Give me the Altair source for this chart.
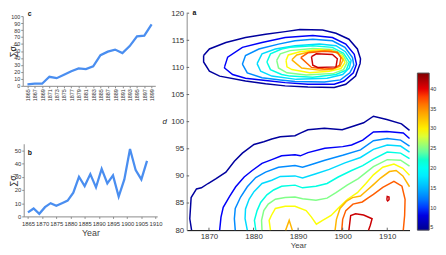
import altair as alt
import pandas as pd

# ---------------- panel c : cumulative series ----------------
years_c = list(range(1865, 1900, 2))
sum_c = [2, 3, 3, 13, 11, 16, 21, 25, 24, 28, 44, 49, 52, 47, 57, 71, 72, 88]

# ---------------- panel b : yearly series ----------------
years_b = list(range(1865, 1908, 2))
sum_b = [3, 6, 2, 7, 10, 8, 10, 12, 18, 30, 23, 32, 22, 36, 25, 31, 15, 28, 51, 35, 28, 42]

# ---------------- panel a : contour lines (year, d) ----------------
levels = [5, 9, 13, 17, 21, 25, 29, 33, 37, 41]
ticks_year_a = [1870, 1880, 1890, 1900, 1910]
ticks_d_a = [80, 85, 90, 95, 100, 105, 110, 115, 120]

top_5 = [(1868.8,112.2),(1870.1,113.4),(1873.8,114.6),(1878.2,115.5),(1882.7,116.1),(1887.1,116.6),
         (1890.4,117.0),(1895.5,116.9),(1898.5,116.3),(1901.4,115.2),(1903.3,113.4),(1904.0,111.6),
         (1903.9,110.7),(1902.9,108.4),(1900.7,106.9),(1898.1,106.3),(1892.2,106.4),(1887.1,106.6),
         (1882.7,107.0),(1878.2,107.5),(1872.4,108.4),(1870.1,109.3),(1868.8,111.0),(1868.8,112.2)]
top_9 = [(1873.5,110.1),(1874.2,111.9),(1877.5,113.7),(1881.9,114.6),(1887.1,115.5),(1893.3,115.9),
         (1897.7,115.5),(1900.7,114.3),(1902.6,112.4),(1903.1,110.6),(1902.4,109.0),(1900.3,107.5),
         (1898.1,106.9),(1892.2,106.9),(1887.1,107.2),(1882.7,107.6),(1878.2,108.0),(1875.3,108.7),
         (1873.5,109.9),(1873.5,110.1)]
top_13 = [(1877.5,110.6),(1878.2,112.2),(1881.2,113.4),(1885.6,114.3),(1889.3,114.9),(1893.3,115.2),
          (1897.7,114.9),(1900.5,113.7),(1902.2,111.8),(1902.5,110.4),(1901.6,109.0),(1899.5,107.7),
          (1895.9,107.3),(1889.3,107.4),(1886.0,107.7),(1881.9,108.1),(1878.6,109.0),(1877.5,110.6)]
top_17 = [(1880.8,110.7),(1881.9,112.5),(1884.9,113.4),(1889.3,114.0),(1894.8,114.3),(1898.5,114.0),
          (1900.6,112.9),(1901.9,111.3),(1901.5,109.9),(1900.0,108.7),(1896.5,108.0),(1889.6,107.8),
          (1884.1,108.4),(1881.6,109.3),(1880.8,110.7)]
top_21 = [(1883.0,111.0),(1883.8,112.5),(1886.3,113.4),(1888.2,113.7),(1893.3,114.0),(1897.7,113.7),
          (1900.2,112.6),(1901.5,111.0),(1900.8,109.5),(1898.5,108.7),(1893.3,108.2),(1888.2,108.4),
          (1886.3,108.7),(1883.8,109.6),(1883.0,111.0)]
top_25 = [(1885.2,111.3),(1886.0,112.5),(1888.2,113.1),(1893.3,113.5),(1897.7,113.3),(1900.0,112.4),
          (1901.0,110.9),(1900.2,109.6),(1898.0,108.9),(1891.8,108.6),(1887.5,109.0),(1885.6,109.9),
          (1885.2,111.3)]
top_29 = [(1887.3,111.3),(1887.8,112.3),(1890.4,112.9),(1894.8,113.3),(1898.1,112.9),(1899.9,112.1),
          (1900.5,110.9),(1899.6,109.8),(1897.0,109.3),(1892.6,109.0),(1888.6,109.6),(1887.5,110.1),
          (1887.3,111.3)]
top_33 = [(1888.6,111.4),(1889.7,112.3),(1892.6,112.9),(1897.0,113.2),(1899.0,112.6),(1900.1,111.4),
          (1899.4,110.2),(1897.5,109.6),(1894.8,109.5),(1890.8,109.9),(1888.6,111.4)]
top_37 = [(1890.6,111.8),(1892.2,112.7),(1895.9,113.0),(1898.8,112.8),(1899.6,111.8),(1899.3,110.4),
          (1898.0,109.8),(1895.9,109.7),(1893.0,110.0),(1890.6,111.8)]
top_41 = [(1893.0,112.0),(1894.1,112.5),(1897.7,112.4),(1898.8,111.6),(1898.5,110.1),(1894.4,110.0),
          (1893.3,110.4),(1893.0,112.0)]

low_5 = [(1866.1,80.0),(1865.7,82.1),(1866.0,86.0),(1867.2,87.6),(1868.3,87.8),(1869.8,88.6),(1871.6,89.5),
         (1873.8,90.7),(1875.7,92.7),(1877.5,94.2),(1880.1,95.8),(1882.3,96.3),(1884.1,96.8),(1886.0,97.2),
         (1889.3,97.4),(1890.5,97.9),(1892.2,98.5),(1895.9,98.8),(1899.9,98.5),(1902.5,99.2),(1904.7,99.8),
         (1906.9,101.0),(1909.9,100.4),(1913.2,99.6),(1915.0,98.4)]
low_9 = [(1872.4,80.0),(1872.7,82.4),(1873.2,84.2),(1874.6,86.2),(1876.0,88.0),(1877.9,89.8),(1879.7,91.0),
         (1881.9,92.3),(1884.1,93.0),(1886.3,93.7),(1889.3,93.9),(1890.5,93.7),(1892.2,94.3),(1896.0,95.1),
         (1900.0,95.4),(1902.0,95.7),(1904.5,96.6),(1906.9,98.1),(1909.9,98.2),(1913.6,97.9),(1915.0,96.9)]
low_13 = [(1875.9,80.0),(1875.7,82.1),(1875.9,84.0),(1877.1,86.1),(1878.6,88.0),(1880.5,89.7),(1882.7,90.7),
          (1885.6,91.6),(1889.3,91.9),(1891.0,91.6),(1893.0,92.1),(1896.0,92.9),(1900.0,93.8),(1904.0,94.8),
          (1906.9,96.5),(1910.0,96.9),(1913.0,96.6),(1915.0,95.5)]
low_17 = [(1878.6,80.0),(1878.1,82.1),(1878.2,83.9),(1879.0,85.7),(1880.1,87.1),(1881.9,88.6),(1884.1,89.2),
          (1886.0,89.9),(1889.3,90.0),(1891.0,89.6),(1894.0,90.4),(1897.0,91.2),(1900.5,92.4),(1904.0,93.4),
          (1906.9,94.9),(1910.0,95.7),(1913.0,95.5),(1915.0,94.4)]
low_21 = [(1880.5,80.0),(1880.2,81.8),(1880.8,83.6),(1881.6,85.1),(1883.0,86.5),(1884.5,87.4),(1886.3,88.1),
          (1889.3,88.3),(1891.0,87.8),(1894.0,88.1),(1896.5,88.6),(1899.0,89.8),(1902.0,91.0),(1904.5,91.9),
          (1906.9,93.1),(1910.0,94.4),(1913.0,94.2),(1915.0,93.2)]
low_25 = [(1881.9,80.0),(1881.8,81.8),(1882.3,83.6),(1883.3,84.8),(1884.9,85.7),(1887.1,86.0),(1889.3,86.1),
          (1891.0,85.8),(1894.0,85.5),(1896.5,85.9),(1898.5,86.9),(1901.0,88.3),(1903.5,89.5),(1906.9,91.7),
          (1910.0,93.0),(1913.0,92.9),(1915.0,91.8)]
low_29 = [(1883.8,80.0),(1883.5,81.8),(1884.0,82.7),(1884.9,84.0),(1887.1,84.4),(1889.3,84.4),(1891.8,83.6),
          (1893.0,82.4),(1894.1,81.1),(1895.5,81.8),(1897.4,82.7),(1899.2,84.2),(1901.1,85.7),(1903.3,86.9),
          (1905.2,88.6),(1906.9,90.2),(1909.0,91.6),(1911.5,92.2),(1913.5,91.4),(1915.0,90.1)]
low_33 = [(1898.3,80.0),(1898.6,82.0),(1899.4,84.0),(1900.8,85.3),(1902.2,86.0),(1904.0,86.3),(1905.4,87.3),
          (1906.9,88.4),(1908.5,89.6),(1910.5,90.8),(1912.0,91.0),(1913.5,90.0),(1915.0,88.0)]
low_33b = [(1887.2,80.0),(1888.0,81.8),(1888.7,80.0)]
low_37 = [(1899.8,80.0),(1900.0,82.0),(1900.7,83.6),(1902.3,84.8),(1904.4,85.2),(1905.8,86.0),(1906.9,86.6),
          (1909.0,87.9),(1911.5,89.0),(1913.3,88.1),(1914.0,85.7),(1913.9,82.7),(1913.6,80.0)]
low_41 = [(1901.4,80.0),(1901.8,82.7),(1902.9,83.0),(1904.7,82.8),(1906.6,82.1),(1906.2,80.9),(1905.8,80.0)]
low_41b = [(1909.9,85.6),(1910.0,86.2),(1910.4,86.1),(1910.4,85.6),(1910.1,85.4),(1909.9,85.6)]

contours = [
    (5, top_5), (9, top_9), (13, top_13), (17, top_17), (21, top_21), (25, top_25),
    (29, top_29), (33, top_33), (37, top_37), (41, top_41),
    (5, low_5), (9, low_9), (13, low_13), (17, low_17), (21, low_21), (25, low_25),
    (29, low_29), (33, low_33), (33, low_33b), (37, low_37), (41, low_41), (41, low_41b),
]

colorbar_ticks = [5, 10, 15, 20, 25, 30, 35, 40]
jet_domain = [4.3, 9.26, 19.19, 29.11, 39.04, 44.0]
jet_colors = ["#00008f", "#0000ff", "#00ffff", "#ffff00", "#ff0000", "#800000"]

# ---------------- tables ----------------
df_c = pd.DataFrame({"year": years_c, "v": sum_c})
df_b = pd.DataFrame({"year": years_b, "v": sum_b})
rows = []
for cid, (lvl, pts) in enumerate(contours):
    for i, (yr, d) in enumerate(pts):
        rows.append({"id": cid, "level": lvl, "i": i, "year": yr, "d": d})
df_a = pd.DataFrame(rows)

FONT = "Liberation Sans"
BLUE = "#4a8ef0"
GREY = "#8a8a8a"
TXT = "#333333"

scale_ax = alt.Scale(domain=[1865, 1915], range=[167, 394], nice=False, zero=False)
scale_ay = alt.Scale(domain=[80, 120], range=[221, 0], nice=False, zero=False)

# panel c
c_line = alt.Chart(df_c).mark_line(color=BLUE, strokeWidth=2.3).encode(
    x=alt.X("year:Q",
            scale=alt.Scale(domain=[1863.7, 1900.0], range=[0, 135], nice=False, zero=False),
            axis=alt.Axis(orient="bottom", offset=-147, values=years_c, format="d", labelAngle=270,
                          labelFontSize=5.5, labelColor=TXT, labelOverlap=False, labelFlush=False,
                          domainColor=GREY, tickColor=GREY, tickSize=2, labelPadding=1, title=None)),
    y=alt.Y("v:Q",
            scale=alt.Scale(domain=[0, 100], range=[74, 3], nice=False),
            axis=alt.Axis(orient="left", values=list(range(0, 101, 10)), labelFontSize=5.5,
                          labelColor=TXT, domainColor=GREY, tickColor=GREY, tickSize=2,
                          labelPadding=1, labelFlush=False, labelOverlap=False,
                          title="∑σⱼ", titleFontSize=9, titleFontWeight="normal", titleColor="#222",
                          titleAngle=270, titleX=-10, titleY=38.5, titleAlign="center",
                          titleBaseline="middle")),
)

# panel b
b_line = alt.Chart(df_b).mark_line(color=BLUE, strokeWidth=2.3).encode(
    x=alt.X("year:Q",
            scale=alt.Scale(domain=[1863.5, 1910.6], range=[1, 137], nice=False, zero=False),
            axis=alt.Axis(orient="bottom", offset=-14, values=list(range(1865, 1911, 5)), format="d",
                          labelFontSize=6, labelColor=TXT, labelOverlap=False, labelFlush=False,
                          domainColor=GREY, tickColor=GREY, tickSize=2, labelPadding=2,
                          title="Year", titleFontSize=9, titleFontWeight="normal", titleColor="#444",
                          titlePadding=2)),
    y=alt.Y("v:Q",
            scale=alt.Scale(domain=[0, 55], range=[207, 133], nice=False),
            axis=alt.Axis(orient="left", offset=-1, values=list(range(0, 51, 10)), labelFontSize=6,
                          labelColor=TXT, domainColor=GREY, tickColor=GREY, tickSize=2,
                          labelPadding=1, labelFlush=False, labelOverlap=False,
                          title="∑σⱼ", titleFontSize=9, titleFontWeight="normal", titleColor="#222",
                          titleAngle=270, titleX=-11, titleY=170, titleAlign="center",
                          titleBaseline="middle")),
)

# panel a
a_lines = alt.Chart(df_a).mark_line(strokeWidth=1.5).encode(
    x=alt.X("year:Q", scale=scale_ax,
            axis=alt.Axis(orient="bottom", values=ticks_year_a, format="d",
                          labelFontSize=8, labelColor=TXT, labelOverlap=False, labelFlush=False,
                          domainColor="#000", ticks=False, labelPadding=3,
                          title="Year", titleFontSize=8, titleFontWeight="normal", titleColor="#444",
                          titlePadding=1)),
    y=alt.Y("d:Q", scale=scale_ay,
            axis=alt.Axis(orient="left", offset=-167, values=ticks_d_a,
                          labelFontSize=8, labelColor=TXT, domainColor=GREY, ticks=False,
                          labelPadding=3, labelFlush=False, labelOverlap=False,
                          title="d", titleFontSize=8, titleFontStyle="italic", titleFontWeight="normal",
                          titleColor="#222", titleAngle=0, titleX=-23, titleY=110.5,
                          titleAlign="center", titleBaseline="middle")),
    color=alt.Color("level:Q",
                    scale=alt.Scale(domain=jet_domain, range=jet_colors),
                    legend=alt.Legend(orient="none", legendX=402, legendY=61, direction="vertical",
                                      gradientLength=160, gradientThickness=12, values=colorbar_ticks,
                                      labelFontSize=5.5, labelColor=TXT, labelOffset=1, title=None,
                                      gradientStrokeColor="#555", gradientStrokeWidth=1)),
    detail="id:N",
    order="i:Q",
)

# inward tick marks of panel a
a_xticks = alt.Chart(pd.DataFrame({"t": ticks_year_a})).mark_rule(color="#666", strokeWidth=1).encode(
    x=alt.X("t:Q", scale=scale_ax, axis=None), y=alt.value(218.5), y2=alt.value(221))
a_yticks = alt.Chart(pd.DataFrame({"t": ticks_d_a[1:]})).mark_rule(color="#666", strokeWidth=1).encode(
    y=alt.Y("t:Q", scale=scale_ay, axis=None), x=alt.value(167), x2=alt.value(169.5))

one = pd.DataFrame({"k": [0]})
lab_c = alt.Chart(one).mark_text(fontSize=7, fontWeight="bold", font=FONT, color="#111",
                                 align="left", baseline="middle").encode(
    x=alt.value(5), y=alt.value(1), text=alt.value("c"))
lab_b = alt.Chart(one).mark_text(fontSize=7, fontWeight="bold", font=FONT, color="#111",
                                 align="left", baseline="middle").encode(
    x=alt.value(5), y=alt.value(142), text=alt.value("b"))
lab_a = alt.Chart(one).mark_text(fontSize=7, fontWeight="bold", font=FONT, color="#111",
                                 align="left", baseline="middle").encode(
    x=alt.value(173), y=alt.value(0), text=alt.value("a"))

chart = alt.layer(c_line, b_line, a_lines, a_xticks, a_yticks, lab_c, lab_b, lab_a).resolve_scale(
    x="independent", y="independent"
).properties(
    width=394, height=221,
    padding={"left": 15, "top": 3, "right": 29, "bottom": 21},
    autosize=alt.AutoSizeParams(type="none"),
).configure_view(stroke=None).configure_axis(
    grid=False, labelFont=FONT, titleFont=FONT
).configure_legend(labelFont=FONT)

chart.save("out.html", embed_options={"renderer": "svg", "actions": False})
